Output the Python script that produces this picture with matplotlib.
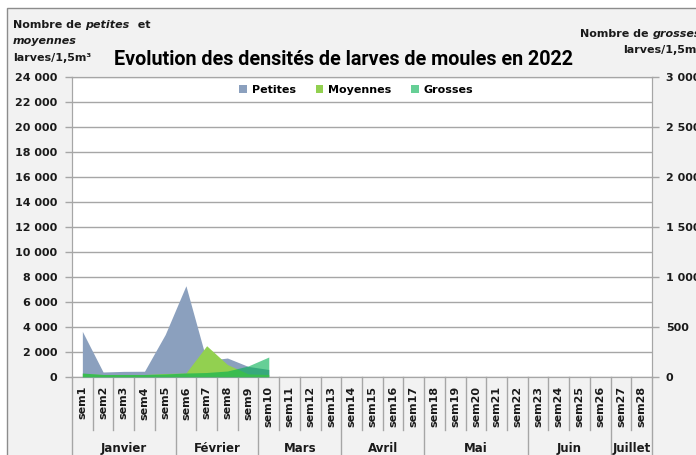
import matplotlib
matplotlib.use('Agg')
import matplotlib.pyplot as plt
import numpy as np
from matplotlib.patches import Rectangle
from matplotlib.lines import Line2D
from matplotlib.transforms import blended_transform_factory
from matplotlib.ticker import FuncFormatter, MultipleLocator

# données
semaines = ['sem%d' % i for i in range(1, 29)]
mois = ['Janvier', 'Février', 'Mars', 'Avril', 'Mai', 'Juin', 'Juillet']
sem_par_mois = [5, 4, 4, 4, 5, 4, 2]

petites = [3650, 400, 450, 460, 3400, 7300, 1300, 1520, 850, 600] + [None] * 18
moyennes = [300, 200, 200, 200, 280, 320, 2500, 1000, 250, 200] + [None] * 18
grosses = [40, 25, 25, 25, 30, 40, 45, 60, 110, 200] + [None] * 18

W, H = 696, 455
fx = lambda x: x / W
fy = lambda y: 1 - y / H

FONT = 'DejaVu Sans'
TXT = '#1a1a1a'
GRID = '#a6a6a6'

fig = plt.figure(figsize=(W / 100, H / 100), dpi=100)
fig.patch.set_facecolor('white')
# cadre du graphique
fig.add_artist(Rectangle((fx(7), -0.1), 1.1, fy(8) + 0.1, transform=fig.transFigure,
                         facecolor='#f2f2f2', edgecolor='#8c8c8c', lw=1, zorder=-10))

ax = fig.add_axes([fx(72), fy(377), fx(652) - fx(72), fy(77) - fy(377)])
ax.set_facecolor('white')
x = np.arange(len(semaines))

def to_arr(v):
    return np.array([np.nan if a is None else a for a in v], dtype=float)

ax.fill_between(x, to_arr(petites), color='#8BA0BE', lw=0, zorder=2, label='Petites')
ax.fill_between(x, to_arr(moyennes), color='#92D050', lw=0, zorder=3, label='Moyennes')

ax.set_xlim(-0.5, len(semaines) - 0.5)
ax.set_ylim(0, 24000)
ax.yaxis.set_major_locator(MultipleLocator(2000))
fmt = FuncFormatter(lambda v, p: '{:,.0f}'.format(v).replace(',', ' '))
ax.yaxis.set_major_formatter(fmt)
ax.grid(axis='y', color=GRID, lw=1)
ax.set_axisbelow(True)
for s in ax.spines.values():
    s.set_color(GRID)
ax.tick_params(axis='y', length=5, width=1, color=GRID, pad=5.5, labelsize=8, labelcolor=TXT)
ax.set_xticks(x)
ax.set_xticklabels(semaines, rotation=90, fontsize=8, fontweight='bold', color=TXT, family=FONT)
ax.tick_params(axis='x', length=0, pad=6.5)
for lab in ax.get_yticklabels():
    lab.set_fontweight('bold')
    lab.set_family(FONT)

ax2 = ax.twinx()
ax2.fill_between(x, to_arr(grosses), color='#00B050', alpha=0.6, lw=0, zorder=4, label='Grosses')
ax2.set_ylim(0, 3000)
ax2.yaxis.set_major_locator(MultipleLocator(500))
ax2.yaxis.set_major_formatter(fmt)
for s in ax2.spines.values():
    s.set_color(GRID)
ax2.tick_params(axis='y', length=5, width=1, color=GRID, pad=5, labelsize=8, labelcolor=TXT)
for lab in ax2.get_yticklabels():
    lab.set_fontweight('bold')
    lab.set_family(FONT)

# séparateurs semaines / mois sous l'axe
tr = blended_transform_factory(ax.transData, ax.transAxes)
bornes = np.cumsum([0] + sem_par_mois) - 0.5
for b in np.arange(len(semaines) + 1) - 0.5:
    if b in bornes:
        ax.add_line(Line2D([b, b], [0, -0.3], transform=tr, color=GRID, lw=1, clip_on=False))
    else:
        ax.add_line(Line2D([b, b], [0, -0.177], transform=tr, color=GRID, lw=1, clip_on=False))
for i, m in enumerate(mois):
    c = (bornes[i] + bornes[i + 1]) / 2
    ax.text(c, -0.237, m, transform=tr, ha='center', va='center', fontsize=8.5,
            fontweight='bold', color=TXT, family=FONT)

# légende
h1, l1 = ax.get_legend_handles_labels()
h2, l2 = ax2.get_legend_handles_labels()
ax2.legend(h1 + h2, l1 + l2, loc='center', bbox_to_anchor=(0.49, 0.957), ncol=3,
           frameon=False, handlelength=0.7, handleheight=0.7, handletextpad=0.4,
           columnspacing=1.8, prop={'family': FONT, 'weight': 'bold', 'size': 8})

# titre
fig.text(fx(343.5), fy(65), 'Evolution des densités de larves de moules en 2022',
         ha='center', va='baseline', fontsize=14.2, fontweight='bold', family='Roboto', color='black')

# titres d'axes (texte mixte gras / gras italique)
renderer = fig.canvas.get_renderer()

def mixed(xpx, ypx, parts):
    xx = fx(xpx)
    for s, style in parts:
        t = fig.text(xx, fy(ypx), s, ha='left', va='baseline', fontsize=8, fontweight='bold',
                     style=style, family=FONT, color=TXT)
        bb = t.get_window_extent(renderer=renderer)
        xx += bb.width / W

mixed(13, 28, [('Nombre de ', 'normal'), ('petites', 'italic'), ('  et', 'normal')])
mixed(13, 44, [('moyennes', 'italic')])
mixed(13, 61, [('larves/1,5m³', 'normal')])
mixed(580, 37, [('Nombre de ', 'normal'), ('grosses', 'italic')])
mixed(623, 53, [('larves/1,5m³', 'normal')])

fig.savefig('out.png', dpi=100)
